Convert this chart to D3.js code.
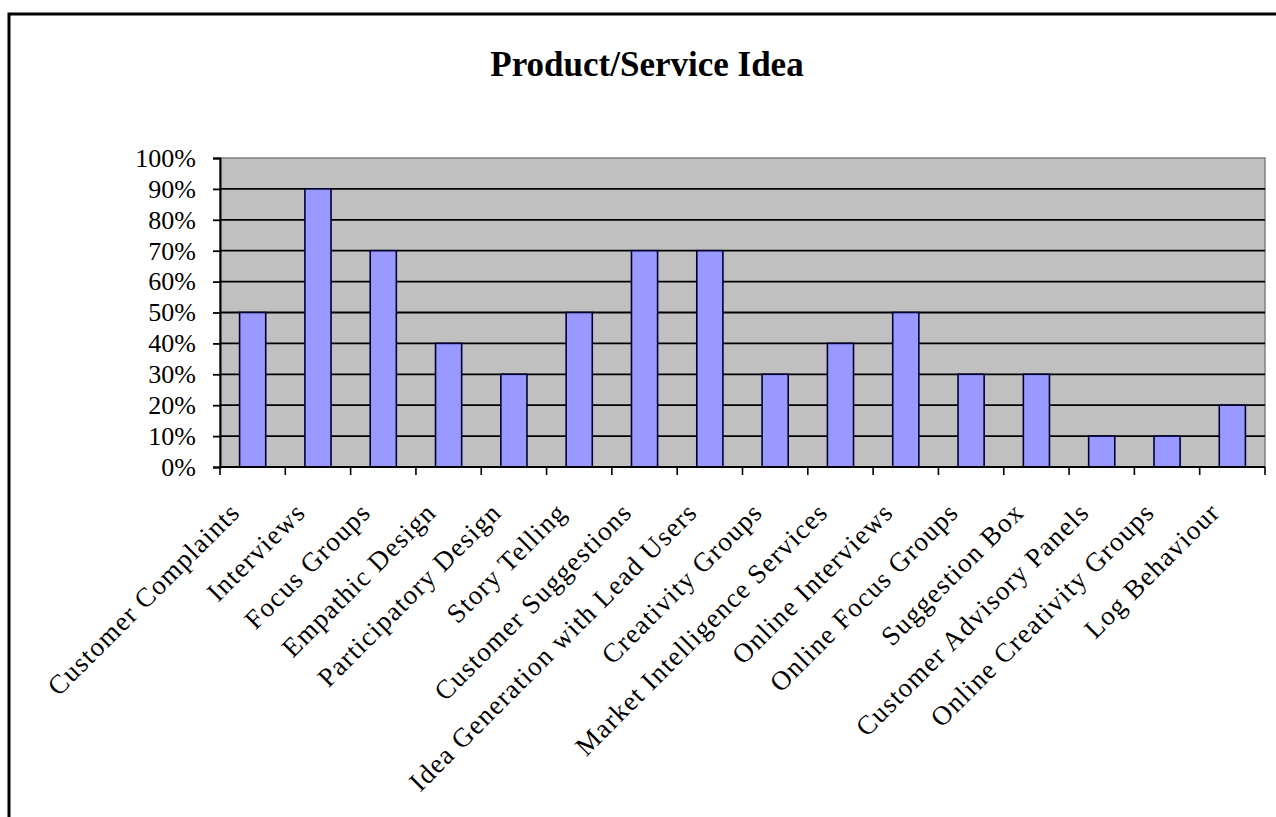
<!DOCTYPE html>
<html>
<head>
<meta charset="utf-8">
<script src="https://cdn.jsdelivr.net/npm/d3@7"></script>
<style>
  body { margin: 0; background: #fff; }
  text { font-family: "Liberation Serif", "Times New Roman", serif; fill: #000; }
</style>
</head>
<body>
<script>
// chart data
var categories = ["Customer Complaints", "Interviews", "Focus Groups", "Empathic Design",
    "Participatory Design", "Story Telling", "Customer Suggestions", "Idea Generation with Lead Users",
    "Creativity Groups", "Market Intelligence Services", "Online Interviews", "Online Focus Groups",
    "Suggestion Box", "Customer Advisory Panels", "Online Creativity Groups", "Log Behaviour"];
var values = [0.5, 0.9, 0.7, 0.4, 0.3, 0.5, 0.7, 0.7, 0.3, 0.4, 0.5, 0.3, 0.3, 0.1, 0.1, 0.2];
var yTicks = [0, 0.1, 0.2, 0.3, 0.4, 0.5, 0.6, 0.7, 0.8, 0.9, 1];
var title = "Product/Service Idea";

var width = 1276,
    height = 817;

var plot = { left: 220, top: 158, right: 1265, bottom: 467 };

var svg = d3.select("body").append("svg")
    .attr("width", width)
    .attr("height", height);

// outer chart frame (only top & left edges visible in the crop)
svg.append("rect")
    .attr("x", 9).attr("y", 14)
    .attr("width", 1400).attr("height", 1000)
    .attr("fill", "#fff")
    .attr("stroke", "#000")
    .attr("stroke-width", 3);

svg.append("text")
    .attr("x", 647).attr("y", 76)
    .attr("text-anchor", "middle")
    .style("font-size", "35px")
    .style("font-weight", "bold")
    .text(title);

var x = d3.scaleBand()
    .domain(categories)
    .range([plot.left, plot.right])
    .paddingInner(0.6)
    .paddingOuter(0.3);

var y = d3.scaleLinear()
    .domain([0, 1])
    .range([plot.bottom, plot.top]);

// plot area
svg.append("rect")
    .attr("x", plot.left).attr("y", plot.top)
    .attr("width", plot.right - plot.left)
    .attr("height", plot.bottom - plot.top)
    .attr("fill", "#c0c0c0")
    .attr("stroke", "#808080")
    .attr("stroke-width", 1.5);

// gridlines
svg.append("g")
    .selectAll("line")
    .data(yTicks.filter(function (d) { return d > 0 && d < 1; }))
    .enter().append("line")
    .attr("x1", plot.left).attr("x2", plot.right)
    .attr("y1", function (d) { return y(d); })
    .attr("y2", function (d) { return y(d); })
    .attr("stroke", "#000")
    .attr("stroke-width", 1.8);

// bars
svg.append("g")
    .selectAll("rect")
    .data(values)
    .enter().append("rect")
    .attr("x", function (d, i) { return x(categories[i]); })
    .attr("y", function (d) { return y(d); })
    .attr("width", x.bandwidth())
    .attr("height", function (d) { return y(0) - y(d); })
    .attr("fill", "#9999ff")
    .attr("stroke", "#000033")
    .attr("stroke-width", 1.6);

// y axis
var yAxis = d3.axisLeft(y)
    .tickValues(yTicks)
    .tickFormat(d3.format(".0%"))
    .tickSize(7)
    .tickPadding(17);

var gy = svg.append("g")
    .attr("transform", "translate(" + plot.left + ",0)")
    .call(yAxis);
gy.select(".domain").attr("stroke", "#000").attr("stroke-width", 2);
gy.selectAll(".tick line").attr("stroke", "#000").attr("stroke-width", 1.8);
gy.selectAll(".tick text")
    .style("font-size", "26px")
    .attr("font-family", null);

// x axis: ticks at category boundaries
var step = x.step();
var boundaries = d3.range(categories.length + 1).map(function (i) { return plot.left + i * step; });

svg.append("line")
    .attr("x1", plot.left).attr("x2", plot.right)
    .attr("y1", plot.bottom).attr("y2", plot.bottom)
    .attr("stroke", "#000").attr("stroke-width", 2);

svg.append("g")
    .selectAll("line")
    .data(boundaries)
    .enter().append("line")
    .attr("x1", function (d) { return d; })
    .attr("x2", function (d) { return d; })
    .attr("y1", plot.bottom).attr("y2", plot.bottom + 8)
    .attr("stroke", "#000").attr("stroke-width", 1.6);

svg.append("g")
    .selectAll("text")
    .data(categories)
    .enter().append("text")
    .attr("transform", function (d) {
        var cx = x(d) + x.bandwidth() / 2;
        return "translate(" + (cx - 11) + "," + (plot.bottom + 47) + ") rotate(-45)";
    })
    .attr("text-anchor", "end")
    .style("font-size", "27px")
    .style("letter-spacing", "1.2px")
    .text(function (d) { return d; });
</script>
</body>
</html>
